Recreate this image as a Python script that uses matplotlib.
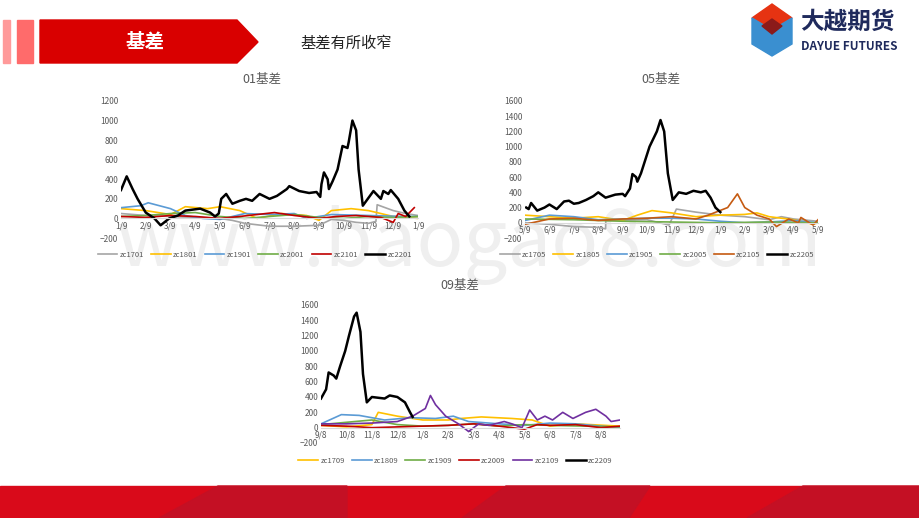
import matplotlib.pyplot as plt
from matplotlib.patches import Polygon, Rectangle

plt.rcParams['font.family'] = ['Noto Sans CJK SC', 'DejaVu Sans']

# ---- data (months from first tick) ----
c1_labels = ['1/9', '2/9', '3/9', '4/9', '5/9', '6/9', '7/9', '8/9', '9/9', '10/9', '11/9', '12/9', '1/9']
c1_series = {
    'zc1701': ([0, 1, 2, 3, 4, 4.5, 5, 6, 7, 8, 8.5, 9, 9.5, 10, 10.3, 10.35, 11, 11.5, 12],
               [50, 30, 20, 10, 0, -20, -50, -80, -80, -70, -10, -20, -40, -50, -30, 140, 80, 50, 30]),
    'zc1801': ([0, 1, 2, 2.6, 3.5, 4, 4.8, 5.5, 6.5, 7.5, 8, 8.5, 9.3, 10, 11, 12],
               [100, 80, 40, 120, 100, 120, 80, 0, 50, 30, -20, 80, 100, 80, 20, 0]),
    'zc1901': ([0, 0.8, 1.1, 2, 2.6, 3.3, 4, 5, 6, 7, 7.5, 8.5, 10, 11.5, 12],
               [110, 130, 160, 100, 30, 0, -10, 50, 40, 50, 0, 40, 30, 20, 20]),
    'zc2001': ([0, 1, 2, 3, 4, 5, 6, 7, 8, 9, 10, 11, 12],
               [20, 30, 50, 60, 20, 0, 20, 40, 10, 0, 20, 10, 20]),
    'zc2101': ([0, 1, 2, 3, 4, 4.8, 5.5, 6.2, 7, 8, 8.7, 9.5, 10.5, 11, 11.2, 11.5, 11.85],
               [20, 10, 30, 20, 0, 20, 40, 60, 30, 0, 20, 30, 10, -40, 50, 20, 110]),
    'zc2201': ([0, 0.23, 0.47, 0.67, 1.0, 1.35, 1.6, 1.95, 2.3, 2.6, 3.2, 3.6, 3.8, 3.95, 4.05, 4.25, 4.5,
                4.8, 5.05, 5.3, 5.6, 6.0, 6.3, 6.7, 6.8, 7.2, 7.6, 7.9, 8.05, 8.1, 8.2, 8.35, 8.4, 8.55,
                8.75, 8.95, 9.15, 9.2, 9.35, 9.5, 9.6, 9.77, 9.97, 10.2, 10.5, 10.6, 10.8, 10.9, 11.2,
                11.45, 11.65],
               [290, 430, 300, 200, 60, 0, -70, 0, 30, 80, 100, 60, 20, 50, 200, 250, 150, 180, 200,
                180, 250, 200, 230, 300, 330, 280, 260, 270, 220, 350, 470, 400, 300, 380, 500, 740,
                720, 780, 1000, 900, 500, 130, 200, 280, 200, 280, 250, 290, 200, 80, 20]),
}
c1_colors = ['#A5A5A5', '#FFC000', '#5B9BD5', '#70AD47', '#C00000', '#000000']

c2_labels = ['5/9', '6/9', '7/9', '8/9', '9/9', '10/9', '11/9', '12/9', '1/9', '2/9', '3/9', '4/9', '5/9']
c2_series = {
    'zc1705': ([0, 1, 2, 3, 3.3, 3.31, 5, 5.9, 6.2, 7, 8, 9, 10, 10.5, 11, 12],
               [0, -20, -50, -60, -80, 30, 40, -30, 180, 140, 100, 80, 40, 80, 50, 20]),
    'zc1805': ([0, 1, 2, 3, 4, 4.6, 5.2, 6, 7, 8, 9, 9.5, 10, 11, 11.8, 12],
               [100, 80, 60, 80, 30, 100, 160, 130, 80, 100, 110, 130, 80, 40, -20, 0]),
    'zc1905': ([0, 1, 2, 3, 4, 5, 6, 7, 8, 9, 10, 11, 12],
               [30, 100, 80, 40, 50, 60, 60, 50, 20, 0, 10, 30, 0]),
    'zc2005': ([0, 2, 4, 6, 8, 10, 12],
               [50, 40, 20, 10, 0, 10, 0]),
    'zc2105': ([0, 1, 2, 3, 4, 5, 6, 7, 7.5, 8.3, 8.7, 9.0, 9.5, 10, 10.3, 10.8, 11.2, 11.3, 11.8, 12],
               [-20, 50, 60, 30, 50, 60, 80, 50, 100, 200, 380, 200, 100, 50, -50, 50, 0, 70, -30, 40]),
    'zc2205': ([0.05, 0.15, 0.25, 0.5, 0.8, 1.0, 1.3, 1.6, 1.8, 2.0, 2.2, 2.5, 2.8, 3.0, 3.3, 3.7, 4.0,
                4.1, 4.3, 4.4, 4.55, 4.6, 4.75, 4.9, 5.1, 5.4, 5.55, 5.7, 5.85, 6.05, 6.3, 6.6, 6.9,
                7.2, 7.4, 7.6, 7.8, 8.0],
               [200, 180, 260, 160, 200, 240, 180, 280, 290, 250, 260, 300, 350, 400, 330, 370, 380,
                350, 450, 640, 600, 540, 650, 800, 1000, 1200, 1350, 1200, 650, 300, 400, 380, 420,
                400, 420, 330, 200, 140]),
}
c2_colors = ['#A5A5A5', '#FFC000', '#5B9BD5', '#70AD47', '#C55A11', '#000000']

c3_labels = ['9/8', '10/8', '11/8', '12/8', '1/8', '2/8', '3/8', '4/8', '5/8', '6/8', '7/8', '8/8']
c3_series = {
    'zc1709': ([0, 1, 2, 2.25, 3, 4, 5, 5.5, 6.3, 7.5, 8.3, 9, 10, 11.75],
               [30, 10, 40, 200, 150, 100, 100, 120, 140, 120, 100, 20, 50, 20]),
    'zc1809': ([0, 0.8, 1.5, 2.5, 3.5, 4.5, 5.2, 5.8, 7, 8, 9, 10, 11, 11.75],
               [50, 170, 160, 100, 130, 120, 150, 80, 50, 30, 60, 50, 20, 0]),
    'zc1909': ([0, 1, 2, 3, 4, 5, 6, 7, 8, 9, 11.75],
               [40, 70, 100, 40, 20, 30, 50, 20, 40, 30, 10]),
    'zc2009': ([0, 1, 2, 3, 4, 5, 6, 7, 8, 8.5, 9, 10, 11, 11.75],
               [30, 20, 0, 10, 20, 30, 50, 20, -20, 40, 30, 40, 0, 20]),
    'zc2109': ([0, 1, 2, 3, 3.6, 4.1, 4.3, 4.5, 4.9, 5.4, 5.8, 6.2, 6.6, 7.2, 7.5, 7.9, 8.2, 8.5, 8.8,
                9.1, 9.5, 9.9, 10.4, 10.8, 11.2, 11.4, 11.75],
               [50, 50, 60, 80, 150, 250, 420, 300, 150, 50, -50, 50, 30, 80, 50, 0, 230, 100, 150,
                100, 200, 120, 200, 240, 150, 80, 100]),
    'zc2209': ([0, 0.2, 0.3, 0.5, 0.6, 0.75, 0.95, 1.1, 1.3, 1.4, 1.55, 1.65, 1.8, 2.0, 2.5, 2.7, 3.0,
                3.3, 3.5, 3.6],
               [380, 500, 720, 680, 640, 800, 1000, 1200, 1450, 1500, 1250, 700, 330, 400, 380, 420,
                400, 330, 200, 140]),
}
c3_colors = ['#FFC000', '#5B9BD5', '#70AD47', '#C00000', '#7030A0', '#000000']

W, H = 920, 518
fig = plt.figure(figsize=(9.2, 5.18), dpi=100)

# background / decorations in pixel coordinates
bg = fig.add_axes([0, 0, 1, 1])
bg.set_xlim(0, W)
bg.set_ylim(H, 0)
bg.axis('off')
bg.add_patch(Rectangle((3, 20), 7, 43, color='#FF9A9A'))
bg.add_patch(Rectangle((17, 20), 16, 43, color='#FF6B6B'))
bg.add_patch(Polygon([(40, 20), (237, 20), (258, 42), (237, 63), (40, 63)], color='#D90000'))
bg.text(145, 42, '基差', color='white', fontsize=14, fontweight='bold', ha='center', va='center')
bg.text(300, 43, '基差有所收窄', fontsize=11, ha='left', va='center', color='#222222')
# logo
bg.add_patch(Polygon([(752, 18), (772, 4), (792, 18), (772, 30)], color='#E63312'))
bg.add_patch(Polygon([(752, 18), (772, 30), (772, 56), (752, 44)], color='#3A8FD0'))
bg.add_patch(Polygon([(792, 18), (772, 30), (772, 56), (792, 44)], color='#3A8FD0'))
bg.add_patch(Polygon([(762, 26), (772, 19), (782, 26), (772, 34)], color='#8B1A1A'))
bg.text(800, 22, '大越期货', fontsize=17, fontweight='bold', color='#1F2A5C', ha='left', va='center')
bg.text(801, 46, 'DAYUE FUTURES', fontsize=8.5, fontweight='bold', color='#1F2A5C', ha='left', va='center')
# footer
bg.add_patch(Rectangle((0, 486), W, 32, color='#D90A1A'))
bg.add_patch(Polygon([(159, 518), (218, 486), (347, 486), (347, 518)], color='#C41024'))
bg.add_patch(Polygon([(462, 518), (506, 486), (650, 486), (629, 518)], color='#C41024'))
bg.add_patch(Polygon([(747, 518), (803, 486), (920, 486), (920, 518)], color='#C41024'))
bg.text(470, 245, 'www.baogao8.com', fontsize=56, color='#EFEFEF', ha='center', va='center', zorder=0)


def draw_chart(rect, title, labels, series, colors, ylim, yticks, xmax, title_xy, leg_y):
    l, t, r, b = rect
    ax = fig.add_axes([l / W, 1 - b / H, (r - l) / W, (b - t) / H])
    ax.patch.set_alpha(0)
    for name, c in zip(series, colors):
        xs, ys = series[name]
        ax.plot(xs, ys, color=c, lw=1.8 if c == '#000000' else 1.2, label=name)
    ax.set_xlim(0, xmax)
    ax.set_ylim(*ylim)
    ax.set_yticks(yticks)
    ax.set_xticks(range(len(labels)))
    ax.set_xticklabels(labels)
    for s in ['top', 'right', 'left']:
        ax.spines[s].set_visible(False)
    ax.spines['bottom'].set_position(('data', 0))
    ax.spines['bottom'].set_color('#D9D9D9')
    ax.tick_params(length=0, labelsize=6, colors='#595959', pad=2)
    fig.text(title_xy[0] / W, 1 - title_xy[1] / H, title, fontsize=9, color='#595959',
             ha='center', va='center')
    ax.legend(loc='center', bbox_to_anchor=(0.45, 1 - (leg_y - t) / (b - t)), ncol=6,
              frameon=False, fontsize=5.5, handlelength=2.6, columnspacing=0.9, handletextpad=0.3,
              labelcolor='#595959')
    return ax


draw_chart((121, 101, 418, 238), '01基差', c1_labels, c1_series, c1_colors,
           (-200, 1200), range(-200, 1201, 200), 12, (262, 80), 255)
draw_chart((525, 101, 818, 238), '05基差', c2_labels, c2_series, c2_colors,
           (-200, 1600), range(-200, 1601, 200), 12, (661, 80), 255)
draw_chart((321, 305, 620, 443), '09基差', c3_labels, c3_series, c3_colors,
           (-200, 1600), range(-200, 1601, 200), 11.75, (460, 285), 461)

fig.savefig('out.png', dpi=100)
